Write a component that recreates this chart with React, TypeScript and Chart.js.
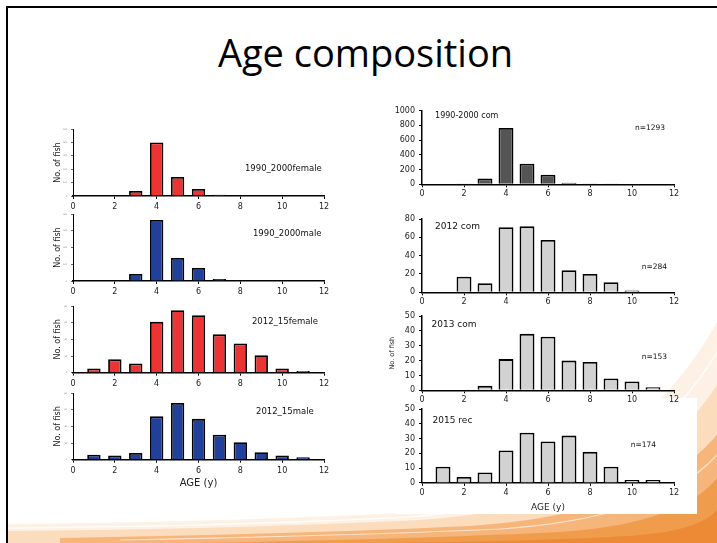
import React, { useEffect, useRef } from "react";
import { Chart, registerables } from "chart.js";

Chart.register(...registerables);

// ---------- data ----------
const ages = [1, 2, 3, 4, 5, 6, 7, 8, 9, 10, 11];

const female1990 = [0, 3, 37, 400, 142, 52, 10, 5, 2, 0, 0];
const male1990 = [0, 0, 42, 364, 137, 78, 12, 5, 0, 0, 0];
const female2012 = [5, 16, 11, 61, 75, 69, 46, 35, 21, 5, 2];
const male2012 = [6, 5, 8, 52, 68, 49, 30, 21, 9, 5, 3];
const com1990 = [0, 3, 79, 766, 280, 130, 22, 10, 3, 0, 0];
const com2012 = [0, 17, 10, 71, 72, 57, 24, 20, 11, 2, 0];
const com2013 = [0, 0, 3, 21, 38, 36, 20, 19, 8, 6, 2];
const rec2015 = [11, 4, 7, 22, 34, 28, 32, 21, 11, 2, 2];

const titleText = "Age composition";
const yTitleText = "No. of fish";
const xTitleText = "AGE (y)";

// ---------- styles ----------
const FONT = '"DejaVu Sans", "Liberation Sans", sans-serif';
const RED = "#ec3434";
const BLUE = "#21409a";
const DARK = "#555555";
const LIGHT = "#d2d2d2";

type Note = { text: string; size: number; fx: number; fy: number };
type Spec = {
  values: number[];
  color: string;
  yMax: number;
  yStep: number;
  box: [number, number, number, number]; // left, top, width, height
  plot: [number, number, number, number]; // l, t, r, b
  barPct: number;
  notes: Note[];
  tinyY: boolean;
  yTitle?: { size: number; pad: number };
  xTitle?: { size: number; pad: number };
};

const notesPlugin = {
  id: "notes",
  afterDatasetsDraw(chart: any, _args: any, opts: any) {
    const { ctx, chartArea: a } = chart;
    ctx.save();
    ctx.fillStyle = "#111";
    ctx.textBaseline = "middle";
    ctx.textAlign = "left";
    for (const n of opts.items || []) {
      ctx.font = `${n.size}px ${FONT}`;
      ctx.fillText(
        n.text,
        a.left + n.fx * (a.right - a.left),
        a.top + n.fy * (a.bottom - a.top)
      );
    }
    ctx.restore();
  },
};

function AgeChart({ spec }: { spec: Spec }) {
  const ref = useRef<HTMLCanvasElement | null>(null);
  useEffect(() => {
    const [bl, bt, bw, bh] = spec.box;
    const [pl, pt, pr, pb] = spec.plot;
    const yW = pl - bl;
    const xH = bt + bh - pb;
    const padTop = pt - bt;
    const padRight = bl + bw - pr;
    const chart = new Chart(ref.current as HTMLCanvasElement, {
      type: "bar",
      data: {
        datasets: [
          {
            data: ages.map((a, i) => ({ x: a, y: spec.values[i] || null })) as any,
            backgroundColor: spec.color,
            borderColor: "#000",
            borderWidth: 1.8,
            barPercentage: spec.barPct,
            categoryPercentage: 1,
          },
        ],
      },
      options: {
        animation: false,
        responsive: false,
        maintainAspectRatio: false,
        layout: { padding: { top: padTop, right: padRight, left: 0, bottom: 0 } },
        plugins: {
          legend: { display: false },
          tooltip: { enabled: false },
          notes: { items: spec.notes },
        } as any,
        scales: {
          x: {
            type: "linear",
            offset: false,
            min: 0,
            max: 12,
            ticks: {
              stepSize: 2,
              autoSkip: false,
              maxRotation: 0,
              padding: spec.tinyY ? 3 : 2,
              color: "#222",
              font: { family: FONT, size: 8 },
              callback: (v: any) => String(v),
            },
            grid: { display: true, drawOnChartArea: false, tickLength: 3, color: "#000", offset: false },
            border: { display: true, color: "#000", width: 1.5 },
            title: spec.xTitle
              ? {
                  display: true,
                  text: xTitleText,
                  color: "#222",
                  font: { family: FONT, size: spec.xTitle.size },
                  padding: { top: 0, bottom: spec.xTitle.pad },
                }
              : { display: false },
            afterFit: (sc: any) => {
              sc.height = xH;
            },
          },
          y: {
            min: 0,
            max: spec.yMax,
            ticks: {
              stepSize: spec.yStep,
              padding: 4,
              color: spec.tinyY ? "#666" : "#222",
              font: { family: FONT, size: spec.tinyY ? 2 : 8 },
              callback: (v: any) => String(v),
            },
            grid: {
              display: true,
              drawOnChartArea: false,
              tickLength: spec.tinyY ? 2 : 3,
              color: spec.tinyY ? "#666" : "#000",
            },
            border: { display: true, color: "#000", width: spec.tinyY ? 1 : 1.5 },
            title: spec.yTitle
              ? {
                  display: true,
                  text: yTitleText,
                  color: "#222",
                  font: { family: FONT, size: spec.yTitle.size },
                  padding: { top: spec.yTitle.pad, bottom: 0 },
                }
              : { display: false },
            afterFit: (sc: any) => {
              sc.width = yW;
            },
          },
        },
      } as any,
      plugins: [notesPlugin as any],
    });
    return () => chart.destroy();
  }, [spec]);
  const [l, t, w, h] = spec.box;
  return (
    <canvas
      ref={ref}
      width={w}
      height={h}
      style={{ position: "absolute", left: l, top: t, width: w, height: h }}
    />
  );
}

const specs: Spec[] = [
  {
    values: female1990, color: RED, yMax: 500, yStep: 100,
    box: [48, 115, 288, 98], plot: [73, 129, 324, 196], barPct: 0.64, tinyY: true,
    notes: [{ text: "1990_2000female", size: 8.5, fx: 0.685, fy: 0.6 }],
    yTitle: { size: 8, pad: 5 },
  },
  {
    values: male1990, color: BLUE, yMax: 400, yStep: 100,
    box: [48, 204, 288, 92], plot: [73, 214, 324, 281], barPct: 0.64, tinyY: true,
    notes: [{ text: "1990_2000male", size: 8.5, fx: 0.717, fy: 0.3 }],
    yTitle: { size: 8, pad: 5 },
  },
  {
    values: female2012, color: RED, yMax: 80, yStep: 20,
    box: [48, 296, 288, 92], plot: [73, 306, 324, 372.7], barPct: 0.64, tinyY: true,
    notes: [{ text: "2012_15female", size: 8.5, fx: 0.713, fy: 0.24 }],
    yTitle: { size: 8, pad: 5 },
  },
  {
    values: male2012, color: BLUE, yMax: 80, yStep: 20,
    box: [48, 383, 288, 108], plot: [73, 393, 324, 459.7], barPct: 0.64, tinyY: true,
    notes: [{ text: "2012_15male", size: 8.5, fx: 0.729, fy: 0.28 }],
    yTitle: { size: 8, pad: 5 },
    xTitle: { size: 10, pad: 2 },
  },
  {
    values: com1990, color: DARK, yMax: 1000, yStep: 200,
    box: [390, 100, 300, 100], plot: [422, 110.7, 674, 184.3], barPct: 0.71, tinyY: false,
    notes: [
      { text: "1990-2000 com", size: 8, fx: 0.052, fy: 0.07 },
      { text: "n=1293", size: 7.5, fx: 0.845, fy: 0.23 },
    ],
  },
  {
    values: com2012, color: LIGHT, yMax: 80, yStep: 20,
    box: [390, 208, 300, 100], plot: [422, 219, 674, 292.3], barPct: 0.71, tinyY: false,
    notes: [
      { text: "2012 com", size: 9, fx: 0.052, fy: 0.1 },
      { text: "n=284", size: 7.5, fx: 0.872, fy: 0.66 },
    ],
  },
  {
    values: com2013, color: LIGHT, yMax: 50, yStep: 10,
    box: [384, 305, 306, 100], plot: [422, 316, 674, 390.3], barPct: 0.71, tinyY: false,
    notes: [
      { text: "2013 com", size: 9, fx: 0.038, fy: 0.11 },
      { text: "n=153", size: 7.5, fx: 0.872, fy: 0.556 },
    ],
    yTitle: { size: 6.5, pad: 4.8 },
  },
  {
    values: rec2015, color: LIGHT, yMax: 50, yStep: 10,
    box: [390, 398, 300, 117.4], plot: [422, 409, 674, 483.3], barPct: 0.71, tinyY: false,
    notes: [
      { text: "2015 rec", size: 9, fx: 0.042, fy: 0.16 },
      { text: "n=174", size: 7.5, fx: 0.828, fy: 0.485 },
    ],
    xTitle: { size: 9, pad: 2 },
  },
];

function Swoosh() {
  return (
    <svg
      width={717}
      height={543}
      style={{ position: "absolute", left: 0, top: 0 }}
      viewBox="0 0 717 543"
    >
      <path d="M 8 543 L 8 524 Q 220 522 400 513 Q 620 495 717 322 L 717 543 Z" fill="#fdf0e4" />
      <path d="M 8 543 L 8 531 Q 240 529 420 520 Q 640 505 717 385 L 717 543 Z" fill="#fbdcbd" />
      <path d="M 60 543 L 60 538 Q 300 534 470 526 Q 650 514 717 435 L 717 543 Z" fill="#f6b57b" />
      <path d="M 200 543 Q 420 539 560 532 Q 680 524 717 478 L 717 543 Z" fill="#f09c4d" />
      <path d="M 380 543 Q 560 541 640 535 Q 700 530 717 510 L 717 543 Z" fill="#ec8a36" />
      <path d="M 8 528 Q 230 526 410 517 Q 630 500 717 352" stroke="#ffffff" strokeWidth={1.5} fill="none" opacity={0.8} />
      <path d="M 120 540 Q 340 536 500 529 Q 660 518 717 455" stroke="#ffffff" strokeWidth={1.2} fill="none" opacity={0.6} />
    </svg>
  );
}

export default function App() {
  return (
    <div
      style={{
        position: "fixed",
        left: 0,
        top: 0,
        width: 717,
        height: 543,
        overflow: "hidden",
        background: "#fff",
      }}
    >
      <Swoosh />
      <div
        style={{
          position: "absolute",
          left: 6,
          top: 6,
          width: 760,
          height: 600,
          borderTop: "2px solid #000",
          borderLeft: "2px solid #000",
        }}
      />
      <div
        style={{
          position: "absolute",
          left: 6,
          top: 33,
          width: 719,
          textAlign: "center",
          fontFamily: '"Open Sans", sans-serif',
          fontSize: 38,
          lineHeight: "38px",
          color: "#000",
        }}
      >
        {titleText}
      </div>
      <div
        style={{
          position: "absolute",
          left: 395,
          top: 398,
          width: 302,
          height: 116,
          background: "#fff",
        }}
      />
      {specs.map((s, i) => (
        <AgeChart key={i} spec={s} />
      ))}
    </div>
  );
}
